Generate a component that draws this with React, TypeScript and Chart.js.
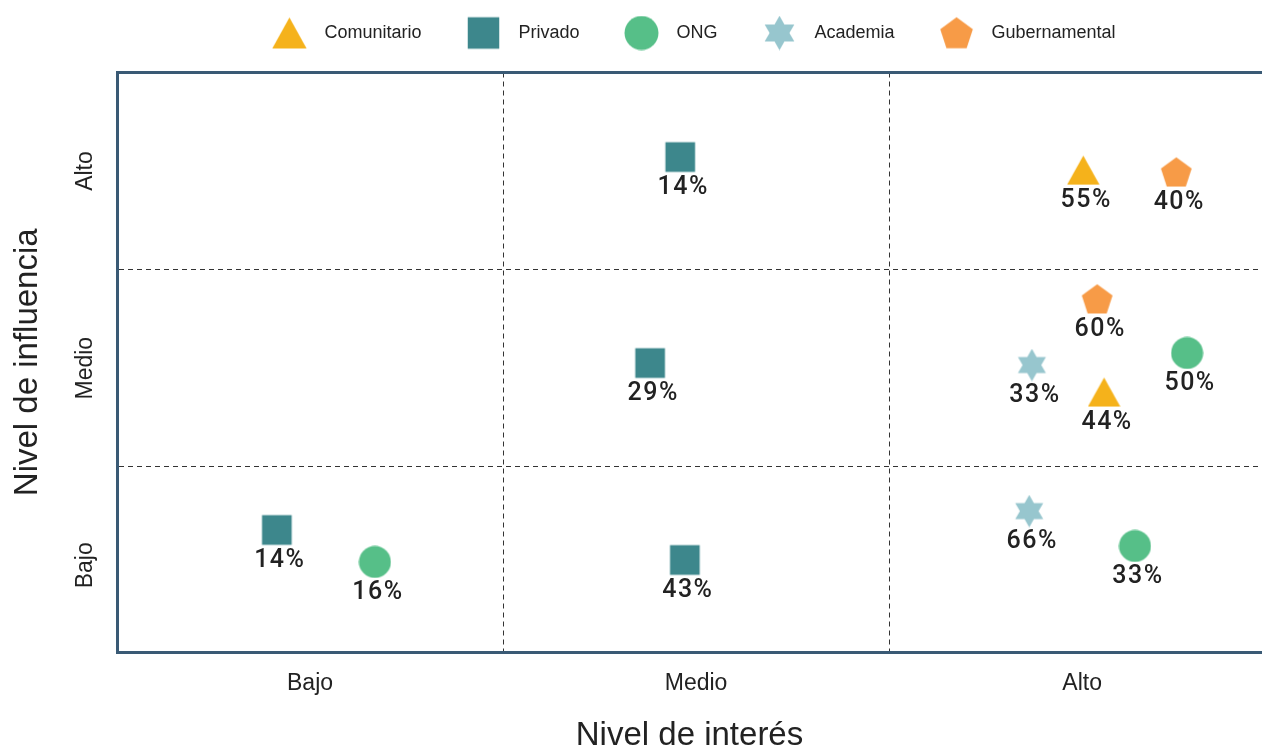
import React, { useEffect, useRef } from 'react';
import { Chart, registerables } from 'chart.js';

Chart.register(...registerables);

// ---- Data ----
const xTickLabels = ['Bajo', 'Medio', 'Alto'];
const yTickLabels = ['Bajo', 'Medio', 'Alto'];
const seriesNames = ['Comunitario', 'Privado', 'ONG', 'Academia', 'Gubernamental'];

const comunitarioX = [3.003, 3.057];
const comunitarioY = [3.005, 1.879];
const comunitarioPct = [55, 44];

const privadoX = [1.959, 1.881, 0.914, 1.971];
const privadoY = [3.071, 2.026, 1.179, 1.027];
const privadoPct = [14, 29, 14, 43];

const ongX = [1.168, 3.272, 3.137];
const ongY = [1.017, 2.077, 1.098];
const ongPct = [16, 50, 33];

const academiaX = [2.87, 2.863];
const academiaY = [2.016, 1.275];
const academiaPct = [33, 66];

const gubernamentalX = [3.244, 3.039];
const gubernamentalY = [2.995, 2.351];
const gubernamentalPct = [40, 60];

// ---- Styles ----
const FONT = '"Liberation Sans", Arial, Helvetica, sans-serif';
const LABEL_FONT = 'Roboto, "Liberation Sans", Arial, sans-serif';
const TEXT = '#222222';
const FRAME = '#3a5a75';
const GRID = '#333333';
const colors = ['#f5b21b', '#3d878c', '#56bf88', '#97c6ce', '#f79b47'];
const shapes = ['triangle', 'square', 'circle', 'hexagram', 'pentagon'];

function makeMarker(shape: string, color: string, size: number): HTMLCanvasElement {
  const c = document.createElement('canvas');
  c.width = size;
  c.height = size;
  const ctx = c.getContext('2d')!;
  ctx.fillStyle = color;
  const cx = size / 2;
  const cy = size / 2;
  const r = size / 2;
  ctx.beginPath();
  if (shape === 'square') {
    const s = size * 0.9;
    ctx.rect(cx - s / 2, cy - s / 2, s, s);
  } else if (shape === 'circle') {
    ctx.arc(cx, cy, r * 0.97, 0, Math.PI * 2);
  } else if (shape === 'triangle') {
    const h = size * 0.88;
    const w = size * 0.98;
    ctx.moveTo(cx, cy - h / 2);
    ctx.lineTo(cx + w / 2, cy + h / 2);
    ctx.lineTo(cx - w / 2, cy + h / 2);
    ctx.closePath();
  } else if (shape === 'pentagon') {
    const R = r * 0.98;
    for (let k = 0; k < 5; k++) {
      const a = -Math.PI / 2 + (k * 2 * Math.PI) / 5;
      const px = cx + R * Math.cos(a);
      const py = cy + 1.5 + R * Math.sin(a);
      if (k === 0) ctx.moveTo(px, py);
      else ctx.lineTo(px, py);
    }
    ctx.closePath();
  } else if (shape === 'hexagram') {
    const R = r * 0.98;
    const ri = R / Math.sqrt(3);
    for (let k = 0; k < 12; k++) {
      const a = -Math.PI / 2 + (k * Math.PI) / 6;
      const rr = k % 2 === 0 ? R : ri;
      const px = cx + rr * Math.cos(a);
      const py = cy + rr * Math.sin(a);
      if (k === 0) ctx.moveTo(px, py);
      else ctx.lineTo(px, py);
    }
    ctx.closePath();
  }
  ctx.fill();
  return c;
}

const seriesX = [comunitarioX, privadoX, ongX, academiaX, gubernamentalX];
const seriesY = [comunitarioY, privadoY, ongY, academiaY, gubernamentalY];
const seriesPct = [comunitarioPct, privadoPct, ongPct, academiaPct, gubernamentalPct];

const pctLabelsPlugin = {
  id: 'pctLabels',
  afterDatasetsDraw(chart: any) {
    const ctx = chart.ctx;
    ctx.save();
    ctx.font = `500 25px ${LABEL_FONT}`;
    try {
      (ctx as any).letterSpacing = '1.5px';
    } catch (e) {}
    ctx.fillStyle = TEXT;
    ctx.textAlign = 'center';
    ctx.textBaseline = 'middle';
    chart.data.datasets.forEach((ds: any, di: number) => {
      const meta = chart.getDatasetMeta(di);
      meta.data.forEach((pt: any, i: number) => {
        const v = ds.data[i].pct;
        ctx.fillText(`${v}%`, pt.x + 3, pt.y + 31);
      });
    });
    ctx.restore();
  },
};

const halfTicks = [1, 1.5, 2, 2.5, 3];

export default function App() {
  const ref = useRef<HTMLCanvasElement | null>(null);

  useEffect(() => {
    if (!ref.current) return;
    const plotMarkers = shapes.map((s, i) => makeMarker(s, colors[i], 33));
    const legendMarkers = shapes.map((s, i) => makeMarker(s, colors[i], 35));

    const datasets = seriesNames.map((name, i) => ({
      label: name,
      data: seriesX[i].map((x, j) => ({ x, y: seriesY[i][j], pct: seriesPct[i][j] })),
      pointStyle: plotMarkers[i],
      backgroundColor: colors[i],
      borderColor: colors[i],
      pointRadius: 16,
    }));

    const gridColor = (c: any) =>
      c.tick && !Number.isInteger(c.tick.value) ? GRID : 'rgba(0,0,0,0)';

    const chart = new Chart(ref.current, {
      type: 'scatter',
      data: { datasets: datasets as any },
      plugins: [pctLabelsPlugin],
      options: {
        responsive: false,
        animation: false,
        layout: { autoPadding: false, padding: { top: -12, right: 0, left: 0, bottom: 0 } },
        plugins: {
          tooltip: { enabled: false },
          legend: {
            position: 'top',
            fullSize: false,
            labels: {
              usePointStyle: true,
              pointStyleWidth: 52,
              padding: 36,
              color: TEXT,
              font: { family: FONT, size: 18 },
              generateLabels: (ch: any) => {
                const items = (Chart.defaults as any).plugins.legend.labels.generateLabels(ch);
                items.forEach((it: any, i: number) => {
                  it.pointStyle = legendMarkers[i];
                });
                return items;
              },
            },
          },
        },
        scales: {
          x: {
            type: 'linear',
            min: 0.5,
            max: 3.466,
            afterBuildTicks: (axis: any) => {
              axis.ticks = halfTicks.map((v) => ({ value: v }));
            },
            afterFit: (s: any) => {
              s.height = 108;
              s.paddingLeft = 0;
              s.paddingRight = 0;
            },
            ticks: {
              autoSkip: false,
              maxRotation: 0,
              padding: 18,
              color: TEXT,
              font: { family: FONT, size: 23 },
              callback: (v: any) => (Number.isInteger(v) ? xTickLabels[v - 1] : ''),
            },
            grid: { color: gridColor, lineWidth: 1, drawTicks: false },
            border: { color: FRAME, width: 3, dash: [5, 4] },
            title: {
              display: true,
              text: 'Nivel de interés',
              color: TEXT,
              font: { family: FONT, size: 33 },
              padding: { top: 0, bottom: 4 },
            },
          },
          x2: {
            type: 'linear',
            position: 'top',
            afterFit: (s: any) => {
              s.height = 20.5;
              s.paddingLeft = 0;
              s.paddingRight = 0;
            },
            ticks: { display: false },
            grid: { display: false, drawTicks: false },
            border: { color: FRAME, width: 3 },
          },
          y: {
            type: 'linear',
            min: 0.56,
            max: 3.5,
            afterBuildTicks: (axis: any) => {
              axis.ticks = halfTicks.map((v) => ({ value: v }));
            },
            afterFit: (s: any) => {
              s.width = 117;
              s.paddingTop = 0;
              s.paddingBottom = 0;
            },
            ticks: {
              autoSkip: false,
              minRotation: 90,
              maxRotation: 90,
              crossAlign: 'center',
              padding: 0,
              color: TEXT,
              font: { family: FONT, size: 23 },
              callback: (v: any) => (Number.isInteger(v) ? yTickLabels[v - 1] : ''),
            },
            grid: { color: gridColor, lineWidth: 1, drawTicks: false },
            border: { color: FRAME, width: 3, dash: [5, 4] },
            title: {
              display: true,
              text: 'Nivel de influencia',
              color: TEXT,
              font: { family: FONT, size: 33 },
              padding: { top: 8, bottom: 0 },
            },
          },
        },
      } as any,
    });
    return () => chart.destroy();
  }, []);

  return (
    <div
      style={{
        position: 'fixed',
        left: 0,
        top: 0,
        width: 1262,
        height: 750,
        overflow: 'hidden',
        background: '#ffffff',
      }}
    >
      <canvas ref={ref} width={1262} height={760} style={{ display: 'block' }} />
    </div>
  );
}
